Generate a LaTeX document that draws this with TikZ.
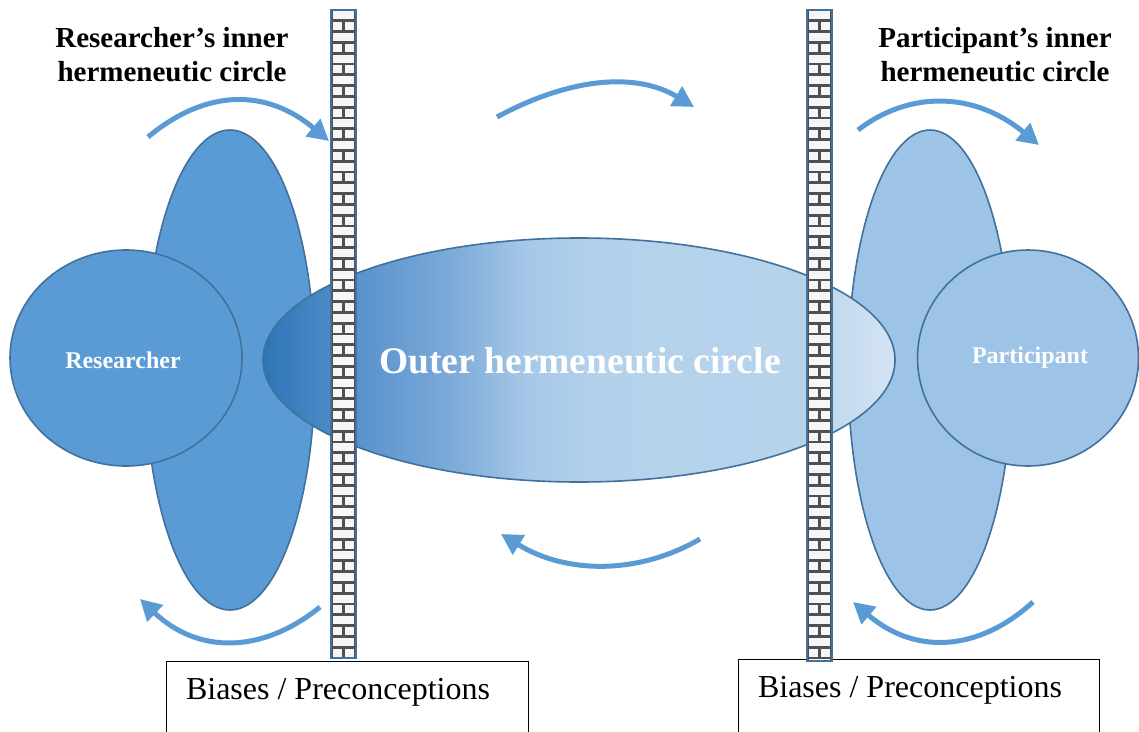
\documentclass[tikz,border=0pt]{standalone}
\usepackage{fontspec}
\setmainfont{Liberation Serif}
\usetikzlibrary{arrows.meta,shapes.geometric}
\definecolor{blueA}{HTML}{5B9BD5}
\definecolor{blueB}{HTML}{9DC3E6}
\definecolor{edgeB}{HTML}{41719C}
\definecolor{arrowC}{HTML}{5B9BD5}
\definecolor{mortar}{HTML}{505050}
\definecolor{brickface}{HTML}{F6F6F6}
\definecolor{sc0}{HTML}{2E75B6}
\definecolor{sc1}{HTML}{5690CC}
\definecolor{sc2}{HTML}{7CAAD9}
\definecolor{sc3}{HTML}{A7C8E8}
\definecolor{sc4}{HTML}{B4D1EB}
\definecolor{sc5}{HTML}{B7D3EC}
\definecolor{sc6}{HTML}{D5E4F3}
\pgfdeclarehorizontalshading{outershade}{100bp}{color(0bp)=(sc0); color(25bp)=(sc0); color(31.9bp)=(sc1); color(39.8bp)=(sc2); color(46.1bp)=(sc3); color(51.7bp)=(sc4); color(67.5bp)=(sc5); color(75bp)=(sc6); color(100bp)=(sc6)}
\newcommand{\brickwall}[4]{%
  \begin{scope}
    \clip (#1,#3) rectangle (#2,#4);
    \fill[mortar] (#1,#3) rectangle (#2,#4);
    \pgfmathsetmacro{\xm}{(#1+#2)/2}
    \foreach \i in {0,...,60}{
      \pgfmathsetmacro{\ya}{#3+\i*10.8+1.4}
      \pgfmathsetmacro{\yb}{#3+\i*10.8+9.4}
      \ifodd\i
        \fill[brickface] (#1+2.2,\ya) rectangle (\xm-1.3,\yb);
        \fill[brickface] (\xm+1.3,\ya) rectangle (#2-2.2,\yb);
      \else
        \fill[brickface] (#1+2.2,\ya) rectangle (#2-2.2,\yb);
      \fi
    }
  \end{scope}
  \draw[edgeB, line width=2.4pt] (#1,#3) rectangle (#2,#4);
}
\tikzset{
  x=1pt, y=-1pt,
  blob/.style={ellipse, draw=edgeB, line width=1.6pt, inner sep=0pt},
  heading/.style={font=\fontsize{29}{34}\selectfont\bfseries, align=center, text=black},
  smalllabel/.style={font=\fontsize{24}{28}\selectfont\bfseries, text=white},
  biasbox/.style={draw=black, line width=0.9pt, fill=white},
  biastext/.style={font=\fontsize{32}{36}\selectfont, text=black},
  curarrow/.style={draw=arrowC, line width=5pt, -{Triangle[length=21pt,width=22pt]}},
}
\begin{document}
\begin{tikzpicture}
\useasboundingbox (0,0) rectangle (1139,731);
\clip (0,0) rectangle (1139,731);
\fill[white] (0,0) rectangle (1139,731);

% tall ellipses
\node[blob, fill=blueA, minimum width=170pt, minimum height=480pt] (rinner) at (230,370) {};
\node[blob, fill=blueB, minimum width=164pt, minimum height=480pt] (pinner) at (930,370) {};
% circles
\node[blob, fill=blueA, minimum width=232pt, minimum height=216pt] (researcher) at (126,358) {};
\node[smalllabel] (rlabel) at (123,360) {Researcher};
\node[blob, fill=blueB, minimum width=221pt, minimum height=216pt] (participant) at (1028,358) {};
\node[smalllabel] (plabel) at (1030,358) {Participant};

% outer ellipse
\node[blob, shading=outershade, minimum width=632pt, minimum height=244pt] (outer) at (579,360) {};
\node[font=\fontsize{37.5}{42}\selectfont\bfseries, text=white] (outerlabel) at (580,361) {Outer hermeneutic circle};

% boxes
\node[biasbox, minimum width=362pt, minimum height=90pt, anchor=north west] (lbox) at (166,661) {};
\node[biastext] (lboxt) at (338,692) {Biases / Preconceptions};
\node[biasbox, minimum width=361pt, minimum height=90pt, anchor=north west] (rbox) at (738,659) {};
\node[biastext] (rboxt) at (910,690) {Biases / Preconceptions};

% walls
\brickwall{331}{356}{10}{658}
\brickwall{807}{832}{10}{661}

% headings
\node[heading] (rhead) at (172,55) {Researcher’s inner\\hermeneutic circle};
\node[heading] (phead) at (995,55) {Participant’s inner\\hermeneutic circle};

% arrows
\coordinate (a1s) at (148,137); \coordinate (a1e) at (329,141);
\coordinate (a2s) at (497,117); \coordinate (a2e) at (694,107);
\coordinate (a3s) at (858,130); \coordinate (a3e) at (1039,145);
\coordinate (a4s) at (320,607); \coordinate (a4e) at (140,599);
\coordinate (a5s) at (700,539); \coordinate (a5e) at (501,534);
\coordinate (a6s) at (1033,602); \coordinate (a6e) at (853,602);

\draw[curarrow] (a1s) .. controls (207,88) and (267,89) .. (a1e);
\draw[curarrow] (a2s) .. controls (573,76) and (638,73) .. (a2e);
\draw[curarrow] (a3s) .. controls (910,90) and (975,92) .. (a3e);
\draw[curarrow] (a4s) .. controls (262,654) and (198,654) .. (a4e);
\draw[curarrow] (a5s) .. controls (638,575) and (566,574) .. (a5e);
\draw[curarrow] (a6s) .. controls (978,652) and (915,655) .. (a6e);
\end{tikzpicture}
\end{document}
